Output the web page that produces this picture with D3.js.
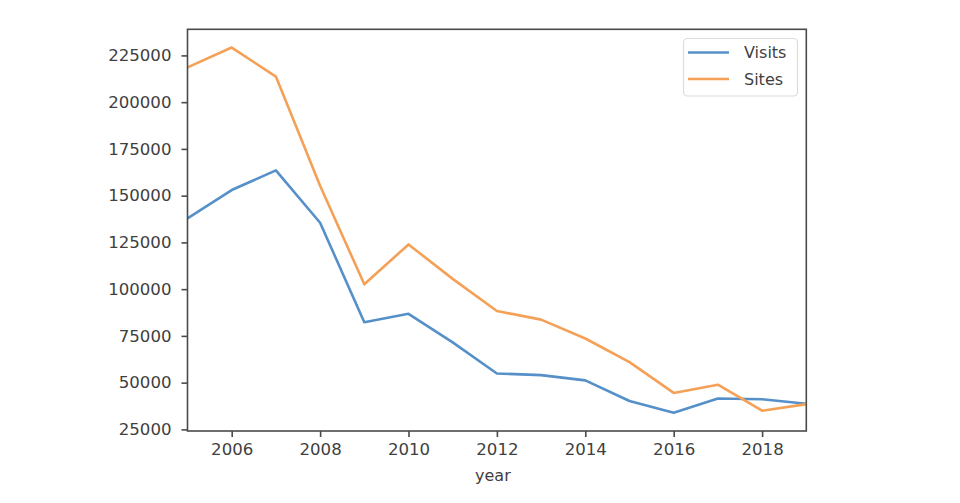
<!DOCTYPE html>
<html>
<head>
<meta charset="utf-8">
<script src="https://cdn.jsdelivr.net/npm/d3@7"></script>
<style>
  html, body { margin: 0; padding: 0; background: #fff; }
  svg { display: block; }
  text { font-family: "DejaVu Sans", sans-serif; }
</style>
</head>
<body>
<svg id="chart" width="960" height="503"></svg>
<script>
// ---- data ----
const years  = [2005, 2006, 2007, 2008, 2009, 2010, 2011, 2012, 2013, 2014, 2015, 2016, 2017, 2018, 2019];
const visits = [137800, 153000, 163500, 135500, 82300, 86800, 71500, 54900, 54000, 51200, 40200, 33900, 41500, 41100, 38700];
const sites  = [218600, 229200, 213700, 155300, 102600, 123900, 105500, 88300, 83700, 73600, 61000, 44500, 48900, 35000, 38500];
const seriesNames = ["Visits", "Sites"];
const yTicks = [25000, 50000, 75000, 100000, 125000, 150000, 175000, 200000, 225000];
const xTicks = [2006, 2008, 2010, 2012, 2014, 2016, 2018];
const xLabel = "year";

// ---- layout ----
const colors = ["#5690c8", "#f4a157"];
const plotL = 187.5, plotR = 806.3, plotT = 29.3, plotB = 431;
const fontSize = "16.6px";

const svg = d3.select("#chart");

const all = visits.concat(sites);
const lo = d3.min(all), hi = d3.max(all), span = hi - lo;
const x = d3.scaleLinear().domain([d3.min(years), d3.max(years)]).range([plotL, plotR]);
const y = d3.scaleLinear().domain([lo - 0.05 * span, hi + 0.05 * span]).range([plotB, plotT]);

// lines
const line = d3.line().x(d => x(d[0])).y(d => y(d[1]));
[visits, sites].forEach((vals, i) => {
  svg.append("path")
    .datum(years.map((yr, j) => [yr, vals[j]]))
    .attr("d", line)
    .attr("fill", "none")
    .attr("stroke", colors[i])
    .attr("stroke-width", 2.6)
    .attr("stroke-linejoin", "round");
});

// frame
svg.append("rect")
  .attr("x", plotL).attr("y", plotT)
  .attr("width", plotR - plotL).attr("height", plotB - plotT)
  .attr("fill", "none").attr("stroke", "#4a4a4a").attr("stroke-width", 1.6);

// axes
const axisColor = "#4a4a4a";
const yAxis = svg.append("g")
  .attr("transform", `translate(${plotL},0)`)
  .call(d3.axisLeft(y).tickValues(yTicks).tickFormat(d3.format("d")).tickSize(6).tickPadding(10));
const xAxis = svg.append("g")
  .attr("transform", `translate(0,${plotB})`)
  .call(d3.axisBottom(x).tickValues(xTicks).tickFormat(d3.format("d")).tickSize(6).tickPadding(6));
[yAxis, xAxis].forEach(g => {
  g.select(".domain").remove();
  g.selectAll(".tick line").attr("stroke", axisColor).attr("stroke-width", 1.6);
  g.selectAll(".tick text")
    .attr("fill", "#3f3f3f")
    .style("font-size", fontSize)
    .style("font-family", "'DejaVu Sans', sans-serif");
});

// x label
svg.append("text")
  .attr("x", (plotL + plotR) / 2 - 4)
  .attr("y", 481)
  .attr("text-anchor", "middle")
  .attr("fill", "#3f3f3f")
  .style("font-size", "16px")
  .text(xLabel);

// legend
const lg = svg.append("g");
lg.append("rect")
  .attr("x", 683.5).attr("y", 38.5)
  .attr("width", 114).attr("height", 57.5)
  .attr("rx", 4).attr("ry", 4)
  .attr("fill", "#fff").attr("stroke", "#dcdcdc").attr("stroke-width", 1.2);
seriesNames.forEach((name, i) => {
  const yy = 52.5 + i * 26.5;
  lg.append("line")
    .attr("x1", 688).attr("x2", 729)
    .attr("y1", yy).attr("y2", yy)
    .attr("stroke", colors[i]).attr("stroke-width", 2.6);
  lg.append("text")
    .attr("x", 744).attr("y", yy + 5.5)
    .attr("fill", "#3f3f3f")
    .style("font-size", "16px")
    .text(name);
});
</script>
</body>
</html>
